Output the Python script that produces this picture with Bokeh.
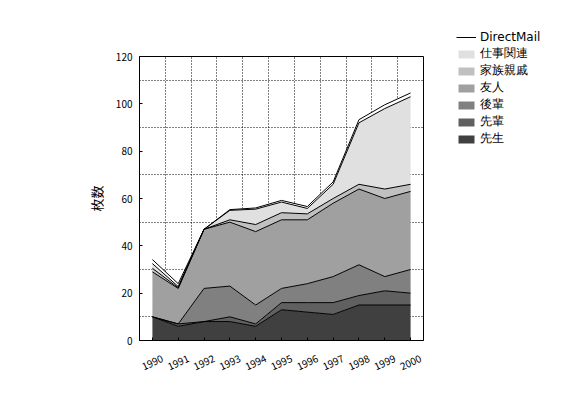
import math
from bokeh.plotting import figure
from bokeh.models import (FixedTicker, Legend, LegendItem, Range1d, ColumnDataSource,
                          LinearAxis, CustomLabelingPolicy)
from bokeh.embed import file_html
from bokeh.resources import INLINE

# ---- data ----
years = [1990, 1991, 1992, 1993, 1994, 1995, 1996, 1997, 1998, 1999, 2000]
sensei = [10, 6, 8, 8, 6, 13, 12, 11, 15, 15, 15]          # 先生
senpai = [0, 1, 0, 2, 1, 3, 4, 5, 4, 6, 5]                 # 先輩
kouhai = [0, 0, 14, 13, 8, 6, 8, 11, 13, 6, 10]            # 後輩
yuujin = [19, 15, 25, 27, 31, 29, 27, 31, 32, 33, 33]      # 友人
kazoku = [1.5, 0.3, 0, 1, 3, 3, 2.5, 2, 2, 4, 3]           # 家族親戚
shigoto = [2, 0.5, 0, 4, 6.5, 4.5, 2.3, 6, 26, 34, 37]     # 仕事関連
directmail = [1.7, 1.2, 0, 0.3, 0.5, 0.7, 0.8, 1, 1.3, 1.6, 1.6]  # DirectMail

series_names = ["先生", "先輩", "後輩", "友人", "家族親戚", "仕事関連", "DirectMail"]
series_values = [sensei, senpai, kouhai, yuujin, kazoku, shigoto, directmail]
fill_colors = ["#404040", "#606060", "#808080", "#a0a0a0", "#c0c0c0", "#e0e0e0", "#ffffff"]

y_ticks = [0, 20, 40, 60, 80, 100, 120]
y_grid = [10, 30, 50, 70, 90, 110]

FONT = "Noto Sans CJK JP"
X0, X1 = 1989.5, 2000.5
LABEL_SHIFT = 0.387  # rotated year labels are centred under their tick

src = ColumnDataSource(dict(year=years, **{n: v for n, v in zip(series_names, series_values)}))

p = figure(frame_width=284, frame_height=284,
           min_border_left=139, min_border_right=131, min_border_top=56, min_border_bottom=41,
           x_range=Range1d(X0, X1), y_range=Range1d(0, 120),
           output_backend="svg", toolbar_location=None)

areas = p.varea_stack(stackers=series_names, x="year", color=fill_colors, source=src)
lines = p.vline_stack(stackers=series_names, x="year", color="black", line_width=1, source=src)

p.background_fill_color = "white"
p.border_fill_color = "white"
p.outline_line_color = "black"
p.outline_line_width = 1

# grids: dotted, between ticks
p.xgrid.ticker = FixedTicker(ticks=[y + 0.5 for y in years[:-1]])
p.ygrid.ticker = FixedTicker(ticks=y_grid)
for g in (p.xgrid, p.ygrid):
    g.grid_line_color = "black"
    g.grid_line_dash = "1 2"
    g.grid_line_width = 1

p.xaxis.ticker = FixedTicker(ticks=years)
p.yaxis.ticker = FixedTicker(ticks=y_ticks)
for ax in (p.xaxis, p.yaxis):
    ax.axis_line_color = "black"
    ax.major_tick_line_color = "black"
    ax.major_tick_in = 3
    ax.major_tick_out = 0
    ax.minor_tick_in = 0
    ax.minor_tick_out = 0
    ax.major_label_text_font = FONT
    ax.major_label_text_color = "black"
    ax.major_label_text_font_size = "10px"

# main x axis: tick marks only (labels come from the shifted axis below)
p.xaxis.major_label_standoff = 0
p.xaxis.major_label_policy = CustomLabelingPolicy(
    code="for (const i of indices) { indices.unset(i) } return indices")

# label axis on a shifted range so rotated labels sit centred below ticks
p.extra_x_ranges = {"lab": Range1d(X0 - LABEL_SHIFT, X1 - LABEL_SHIFT)}
lab_axis = LinearAxis(x_range_name="lab", ticker=FixedTicker(ticks=years),
                      axis_line_alpha=0, major_tick_in=0, major_tick_out=0,
                      minor_tick_in=0, minor_tick_out=0,
                      major_label_text_font=FONT, major_label_text_font_size="10px",
                      major_label_text_color="black",
                      major_label_orientation=math.radians(25),
                      major_label_standoff=6)
p.add_layout(lab_axis, "below")

p.yaxis.major_label_standoff = 7
p.yaxis.axis_label = "枚数"
p.yaxis.axis_label_text_font = FONT
p.yaxis.axis_label_text_font_size = "13px"
p.yaxis.axis_label_text_font_style = "normal"
p.yaxis.axis_label_text_color = "black"
p.yaxis.axis_label_standoff = 7

# legend on the right, top entry first
order = list(range(len(series_names)))[::-1]
items = []
for i in order:
    r = lines[i] if series_names[i] == "DirectMail" else areas[i]
    items.append(LegendItem(label=series_names[i], renderers=[r]))

legend = Legend(items=items, location=(33, 193), orientation="vertical",
                padding=0, margin=0, spacing=0,
                glyph_width=20, glyph_height=10, label_height=16,
                label_standoff=4,
                label_text_font="DejaVu Sans", label_text_font_size="12px",
                label_text_color="black",
                border_line_alpha=0, background_fill_alpha=0)
p.add_layout(legend, "right")

open("out.html", "w").write(file_html(p, INLINE))
